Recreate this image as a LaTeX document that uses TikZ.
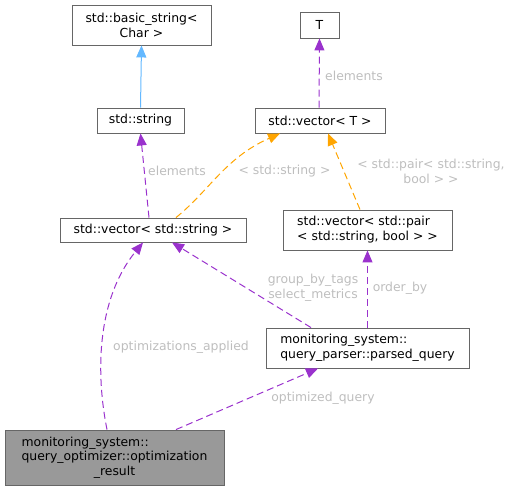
\documentclass[tikz,border=0pt]{standalone}
\usepackage{fontspec}
\setmainfont{DejaVu Sans}
\usetikzlibrary{arrows.meta}
\definecolor{edgepurple}{HTML}{9A32CD}
\definecolor{edgeorange}{HTML}{FFA500}
\definecolor{edgeblue}{HTML}{63B8FF}
\definecolor{boxborder}{HTML}{666666}
\definecolor{lblgray}{HTML}{BEBEBE}
\definecolor{mainfill}{HTML}{999999}
\begin{document}
\begin{tikzpicture}[x=1pt,y=-1pt,
  font=\fontsize{12.4}{15}\selectfont,
  box/.style={draw=boxborder, fill=white, line width=0.9pt, inner sep=0pt, rectangle},
  lbl/.style={text=lblgray, inner sep=0pt, align=center},
  tip/.style={-{Triangle[length=12pt,width=10pt]}},
  dep/.style={tip, edgepurple, dash pattern=on 7pt off 4pt, line width=1pt},
  tmpl/.style={tip, edgeorange, dash pattern=on 7pt off 4pt, line width=1pt},
  inh/.style={tip, edgeblue, line width=1pt}]
\useasboundingbox (0,0) rectangle (512,491);

\node[box, minimum width=139pt, minimum height=40pt, align=center] (bs) at (141.5,25) {std::basic\_string<\\Char >};
\node[box, minimum width=39pt, minimum height=26pt] (T) at (319.5,25) {T};
\node[box, minimum width=87pt, minimum height=25pt] (str) at (140.5,120.5) {std::string};
\node[box, minimum width=130pt, minimum height=25pt] (vecT) at (320,120.5) {std::vector< T >};
\node[box, minimum width=186pt, minimum height=24pt] (vecS) at (153,230) {std::vector< std::string >};
\node[box, minimum width=169pt, minimum height=40pt, align=left] (vecP) at (367.5,230) {std::vector< std::pair\\< std::string, bool > >};
\node[box, minimum width=203pt, minimum height=40pt, align=left] (pq) at (367.5,348) {monitoring\_system::\\query\_parser::parsed\_query};
\node[box, fill=mainfill, minimum width=219pt, minimum height=55pt] (opt) at (114.5,457.5) {\begin{tabular}{@{}l@{}}monitoring\_system::\\[-0.5pt]query\_optimizer::optimization\\[-0.5pt]\multicolumn{1}{@{}c@{}}{\_result}\end{tabular}};

% edges
\draw[inh] (str.north) -- (bs.south);
\draw[dep] ([xshift=-1pt]vecT.north) -- (T.south);
\draw[dep] ([xshift=-4pt]vecS.north) -- (str.south);
\draw[tmpl] ([xshift=23pt]vecS.north) .. controls (210,190) and (225,158) .. ([xshift=-40pt]vecT.south);
\draw[tmpl] ([xshift=-7.5pt]vecP.north) -- ([xshift=8pt]vecT.south);
\draw[dep] ([xshift=-56.5pt]pq.north) -- ([xshift=19pt]vecS.south);
\draw[dep] (pq.north) -- (vecP.south);
\draw[dep] ([xshift=-7.5pt]opt.north) .. controls (96,375) and (96,300) .. ([xshift=-10pt]vecS.south);
\draw[dep] ([xshift=61.5pt]opt.north) -- ([xshift=-49.5pt]pq.south);

% labels
\node[lbl] (l1) at (354,76) {elements};
\node[lbl] (l2) at (177,171) {elements};
\node[lbl] (l3) at (284.5,171) {< std::string >};
\node[lbl] (l4) at (431,171) {< std::pair< std::string,\\bool > >};
\node[lbl] (l5) at (313,288) {group\_by\_tags\\select\_metrics};
\node[lbl] (l6) at (400,288) {order\_by};
\node[lbl] (l7) at (181,347) {optimizations\_applied};
\node[lbl] (l8) at (323,398) {optimized\_query};
\end{tikzpicture}
\end{document}
